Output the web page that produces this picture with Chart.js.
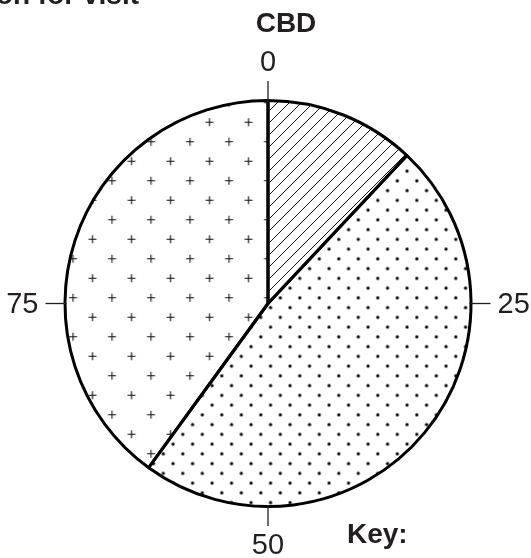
<!DOCTYPE html>
<html>
<head>
<meta charset="utf-8">
<script src="https://cdn.jsdelivr.net/npm/chart.js@4.4.1/dist/chart.umd.min.js"></script>
<style>
  html, body { margin: 0; padding: 0; background: #fff; }
  #wrap { position: relative; width: 531px; height: 558px; }
</style>
</head>
<body>
<div id="wrap"><canvas id="chart"></canvas></div>
<script>
// Data (percent, clockwise from the top)
const categories = ["A", "B", "C"];
const shares = [12, 48, 40];
const tickValues = [0, 25, 50, 75];
const tickLabels = ["0", "25", "50", "75"];
const titleText = "Reason for visit";
const pieTitle = "CBD";
const keyText = "Key:";

const ink = "#231f20";
const font = "'Liberation Sans', Arial, sans-serif";

// Small helper to build a repeating tile
const makeTile = (w, h, draw) => {
  const c = document.createElement("canvas");
  c.width = w;
  c.height = h;
  const g = c.getContext("2d");
  draw(g);
  return c;
};

const tmp = document.createElement("canvas").getContext("2d");

// Diagonal hatching "/"
const hatchTile = makeTile(12, 12, (g) => {
  g.strokeStyle = "#111";
  g.lineWidth = 1;
  g.beginPath();
  g.moveTo(-1, 13); g.lineTo(13, -1);
  g.moveTo(-7, 7); g.lineTo(7, -7);
  g.moveTo(5, 19); g.lineTo(19, 5);
  g.stroke();
});

// Staggered dots
const dotTile = makeTile(39, 39, (g) => {
  g.fillStyle = "#000";
  for (let r = 0; r < 4; r++) {
    for (let k = 0; k < 2; k++) {
      const x = 4.875 + k * 19.5 + (r % 2) * 9.75;
      const y = 4.875 + r * 9.75;
      g.beginPath();
      g.arc(x, y, 1.6, 0, Math.PI * 2);
      g.fill();
    }
  }
});

// Staggered plus signs
const plusTile = makeTile(39, 39, (g) => {
  g.strokeStyle = "#111";
  g.lineWidth = 1.1;
  [[9.75, 9.75], [29.25, 29.25]].forEach(([x, y]) => {
    g.beginPath();
    g.moveTo(x - 4, y); g.lineTo(x + 4, y);
    g.moveTo(x, y - 4); g.lineTo(x, y + 4);
    g.stroke();
  });
});

const pattern = (tile, ox, oy) => {
  const p = tmp.createPattern(tile, "repeat");
  p.setTransform(new DOMMatrix().translate(ox, oy));
  return p;
};

const fills = [
  pattern(hatchTile, 4, 4),
  pattern(dotTile, 202.3 - 4.875, 434.3 - 4.875),
  pattern(plusTile, 268 - 9.75, 141.7 - 9.75),
];

// Scale ticks, labels and the captions
const decorations = {
  id: "decorations",
  afterDatasetsDraw(chart) {
    const ctx = chart.ctx;
    const arc = chart.getDatasetMeta(0).data[0];
    const cx = arc.x;
    const cy = arc.y;
    const R = arc.outerRadius + 1.5;
    ctx.save();
    ctx.strokeStyle = ink;
    ctx.fillStyle = ink;
    ctx.lineWidth = 1.3;
    ctx.font = "29px " + font;
    tickValues.forEach((v, i) => {
      const a = (v / 100) * Math.PI * 2;
      const sx = Math.sin(a);
      const cy2 = -Math.cos(a);
      ctx.beginPath();
      ctx.moveTo(cx + sx * (R - 3), cy + cy2 * (R - 3));
      ctx.lineTo(cx + sx * (R + 18), cy + cy2 * (R + 18));
      ctx.stroke();
      const horiz = Math.abs(sx) > 0.5;
      const d = horiz ? R + 25 : R + 37;
      ctx.textAlign = sx > 0.5 ? "left" : sx < -0.5 ? "right" : "center";
      ctx.textBaseline = "middle";
      ctx.fillText(tickLabels[i], cx + sx * d, cy + cy2 * d + 1);
    });
    ctx.font = "bold 28px " + font;
    ctx.textBaseline = "alphabetic";
    ctx.textAlign = "center";
    ctx.fillText(pieTitle, cx + 18, 32);
    ctx.textAlign = "left";
    ctx.fillText(keyText, 347, 543);
    ctx.textAlign = "right";
    ctx.fillText(titleText, 139, 4);
    ctx.restore();
  },
};

new Chart(document.getElementById("chart"), {
  type: "pie",
  data: {
    labels: categories,
    datasets: [
      {
        data: shares,
        backgroundColor: fills,
        borderColor: "#000",
        borderWidth: 3,
        hoverOffset: 0,
      },
    ],
  },
  options: {
    responsive: true,
    maintainAspectRatio: false,
    animation: false,
    events: [],
    layout: { padding: { left: 63, right: 58, top: 99, bottom: 50 } },
    plugins: {
      legend: { display: false },
      tooltip: { enabled: false },
      title: { display: false },
    },
  },
  plugins: [decorations],
});
</script>
</body>
</html>
